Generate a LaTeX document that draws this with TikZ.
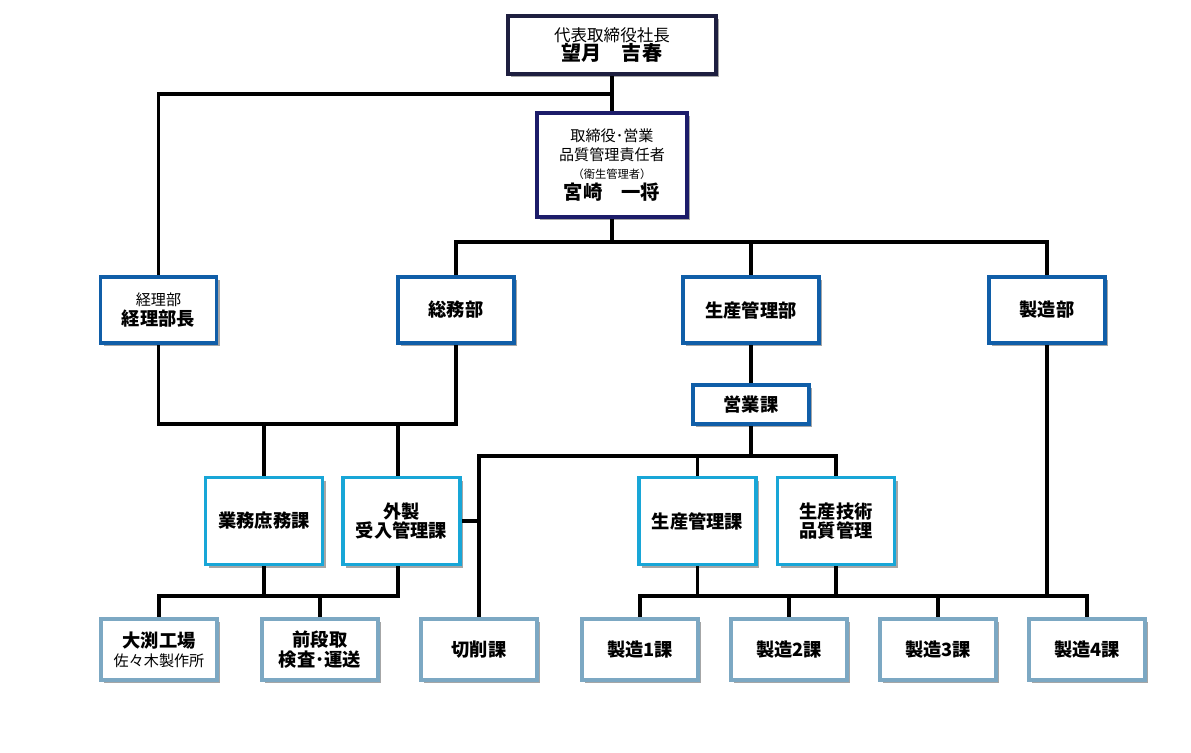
\documentclass[tikz,border=0pt]{standalone}
\usepackage{fontspec}
\setmainfont{Noto Sans CJK JP}
\usepackage{xcolor}
\usetikzlibrary{positioning,shadows,backgrounds}

\definecolor{topline}{RGB}{30,31,64}
\definecolor{execline}{RGB}{28,28,105}
\definecolor{buline}{RGB}{16,94,168}
\definecolor{kaline}{RGB}{24,166,215}
\definecolor{leafline}{RGB}{124,168,195}

\newcommand{\smalltxt}{\fontsize{8.6}{11}\selectfont}
\newcommand{\tinytxt}{\fontsize{6.4}{9}\selectfont}
\newcommand{\lbltxt}{\fontsize{10.4}{13}\selectfont\bfseries}
\newcommand{\nametxt}{\fontsize{11}{14}\selectfont\bfseries}

\begin{document}
\begin{tikzpicture}[
    x=0.02cm, y=-0.02cm,
    base/.style={draw, fill=white, align=center, line width=1.9pt, inner sep=1pt,
      drop shadow={shadow xshift=1.8pt, shadow yshift=-1.8pt, opacity=0.35, fill=black}},
    topbox/.style={base, draw=topline, minimum width=4.16cm, minimum height=1.16cm},
    execbox/.style={base, draw=execline, minimum width=3.0cm, minimum height=2.08cm},
    bubox/.style={base, draw=buline, minimum width=2.32cm, minimum height=1.32cm},
    kabox/.style={base, draw=kaline, minimum width=2.34cm, minimum height=1.74cm},
    leafbox/.style={base, draw=leafline, minimum width=2.32cm, minimum height=1.22cm},
    conn/.style={line width=1.8pt, black}
]
\useasboundingbox (0,0) rectangle (1191,752);

% top
\node[topbox] (ceo) at (612,45) {\fontsize{9.4}{12}\selectfont 代表取締役社長\\[-1pt]\fontsize{11.4}{14}\selectfont\bfseries 望月\quad 吉春};
\node[execbox] (exec) at (612,165) {\smalltxt 取締役･営業\\[-1pt]\smalltxt 品質管理責任者\\[-2pt]\tinytxt （衛生管理者）\\[0pt]\nametxt 宮崎\quad 一将};

% departments
\node[bubox] (keiri) at (158.5,310) {\smalltxt 経理部\\[-1pt]\lbltxt 経理部長};
\node[bubox] (soumu) at (456,310) {\lbltxt 総務部};
\node[bubox, minimum width=2.72cm] (seisanbu) at (751,310) {\lbltxt 生産管理部};
\node[bubox] (seizobu) at (1047,310) {\lbltxt 製造部};
\node[bubox, minimum height=0.78cm] (eigyo) at (751,404.5) {\lbltxt 営業課};

% sections
\node[kabox] (gyomu) at (264,521) {\lbltxt 業務庶務課};
\node[kabox] (gaisei) at (401.5,521) {\lbltxt 外製\\[-1pt]\lbltxt 受入管理課};
\node[kabox] (seisanka) at (697.5,521) {\lbltxt 生産管理課};
\node[kabox] (gijutsu) at (836,521) {\lbltxt 生産技術\\[-1pt]\lbltxt 品質管理};

% leaves
\node[leafbox] (obuchi) at (159,649.5) {\lbltxt 大渕工場\\[-1pt]\smalltxt 佐々木製作所};
\node[leafbox] (zendan) at (320,649.5) {\lbltxt 前段取\\[-1pt]\lbltxt 検査･運送};
\node[leafbox] (sessaku) at (479,649.5) {\lbltxt 切削課};
\node[leafbox] (seizo1) at (640,649.5) {\lbltxt 製造1課};
\node[leafbox] (seizo2) at (789,649.5) {\lbltxt 製造2課};
\node[leafbox] (seizo3) at (938,649.5) {\lbltxt 製造3課};
\node[leafbox] (seizo4) at (1087,649.5) {\lbltxt 製造4課};

% junctions
\coordinate (jtop) at (612,94);
\coordinate (jexec) at (612,242);
\coordinate (jleft) at (264,424);
\coordinate (jleft2) at (398,424);
\coordinate (jeigyo) at (751,456);
\coordinate (jlow) at (264,596);
\coordinate (jright) at (1047,596);

\begin{scope}[on background layer]
\draw[conn] (ceo) -- (exec);
\draw[conn] (jtop) -| (keiri.north);
\draw[conn] (exec.south) -- (jexec);
\draw[conn] (soumu.north) |- (jexec) -| (seizobu.north);
\draw[conn] (seisanbu.north) -- (seisanbu.north |- jexec);
\draw[conn] (keiri.south) |- (jleft) -- (jleft2) -| (soumu.south);
\draw[conn] (jleft) -- (gyomu.north);
\draw[conn] (jleft2) -- (jleft2 |- gaisei.north);
\draw[conn] (seisanbu) -- (eigyo);
\draw[conn] (eigyo.south) -- (jeigyo);
\draw[conn] (sessaku.north) |- (jeigyo) -| (gijutsu.north);
\draw[conn] (seisanka.north) -- (seisanka.north |- jeigyo);
\draw[conn] (gaisei.east) -- (gaisei.east -| sessaku.north);
\draw[conn] (gyomu.south) -- (jlow);
\draw[conn] (obuchi.north) |- (jlow) -- (jlow -| jleft2) -- (jleft2 |- gaisei.south);
\draw[conn] (zendan.north) -- (zendan.north |- jlow);
\draw[conn] (seizobu.south) -- (jright);
\draw[conn] (seizo1.north) |- (jright) -| (seizo4.north);
\draw[conn] (seisanka.south) -- (seisanka.south |- jright);
\draw[conn] (gijutsu.south) -- (gijutsu.south |- jright);
\draw[conn] (seizo2.north) -- (seizo2.north |- jright);
\draw[conn] (seizo3.north) -- (seizo3.north |- jright);
\end{scope}
\end{tikzpicture}
\end{document}
